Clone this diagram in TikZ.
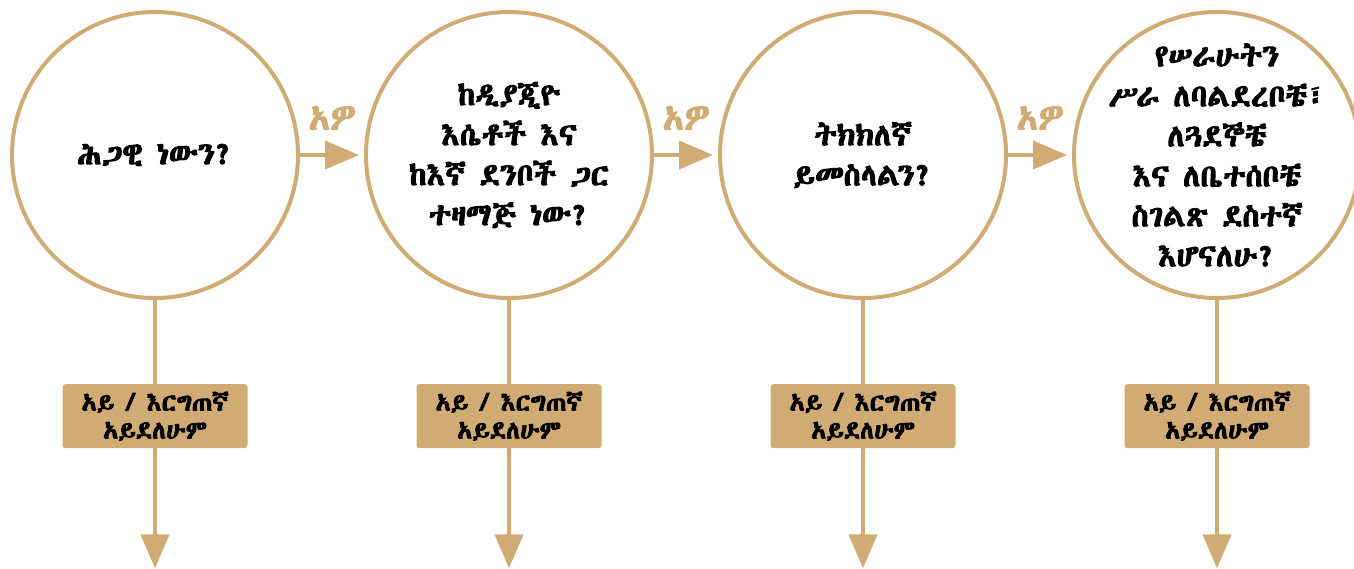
\documentclass[tikz,border=0pt]{standalone}
\usepackage{fontspec}
\IfFontExistsTF{Abyssinica SIL}{\setmainfont{Abyssinica SIL}[AutoFakeBold=3]}{%
  \IfFontExistsTF{FreeSerif}{\setmainfont{FreeSerif}[AutoFakeBold=3]}{%
    \IfFontExistsTF{NotoSansEthiopic-Regular.ttf}{\setmainfont{NotoSansEthiopic-Regular.ttf}[AutoFakeBold=3]}{%
      \setmainfont{DejaVu Sans}}}}
\usetikzlibrary{positioning,arrows.meta}
\definecolor{gold}{HTML}{D1AB74}

\begin{document}
\begin{tikzpicture}[x=1pt, y=-1pt, node distance=64pt,
    question/.style={draw=gold, line width=4pt, circle, minimum size=286pt, inner sep=0pt, align=center, font=\fontsize{31}{40}\selectfont\bfseries},
    nobox/.style={fill=gold, rounded corners=3pt, minimum width=185pt, minimum height=64pt, inner sep=2pt, align=center, font=\fontsize{25}{28}\selectfont\bfseries},
    flow/.style={draw=gold, line width=4pt, -{Triangle[length=34pt, width=28pt]}},
    yes/.style={text=gold, font=\fontsize{35}{40}\selectfont\bfseries}]
    \useasboundingbox (0,0) rectangle (1354,569);

    \node[question]                  (legal)  at (155,155) {ሕጋዊ ነውን?};
    \node[question, right=of legal]  (values) {ከዲያጂዮ\\እሴቶች እና\\ከእኛ ደንቦች ጋር\\ተዛማጅ ነው?};
    \node[question, right=of values] (real)   {ትክክለኛ\\ይመስላልን?};
    \node[question, inner sep=-24pt, right=of real] (proud) {የሠራሁትን\\ሥራ ለባልደረቦቼ፣\\ለጓደኞቼ\\እና ለቤተሰቦቼ\\ስገልጽ ደስተኛ\\እሆናለሁ?};

    \foreach \q in {legal, values, real, proud} {
        \node[nobox, below=84pt of \q] (\q-no) {አይ / እርግጠኛ\\አይደለሁም};
        \coordinate[below=120pt of \q-no] (\q-end);
        \draw[draw=gold, line width=4pt] (\q) -- (\q-no);
        \draw[flow] (\q-no) -- (\q-end);
    }

    \foreach \a/\b in {legal/values, values/real, real/proud}
        \draw[flow, shorten >=5pt] (\a) -- node[yes, above=20pt] {አዎ} (\b);
\end{tikzpicture}
\end{document}
